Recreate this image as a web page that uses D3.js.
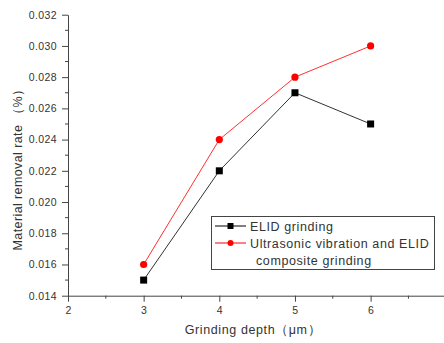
<!DOCTYPE html>
<html><head><meta charset="utf-8">
<script src="https://cdn.jsdelivr.net/npm/d3@7"></script>
<style>body{margin:0;background:#fff}svg{display:block}text{font-family:"Liberation Sans",Arial,sans-serif;fill:#333}</style>
</head><body><svg id="c" width="444" height="343"></svg>
<script>
const depths = [3, 4, 5, 6];
const elid = [0.015, 0.022, 0.027, 0.025];
const ultra = [0.016, 0.024, 0.028, 0.030];
const xTicks = [2, 3, 4, 5, 6];
const yTicks = [0.014, 0.016, 0.018, 0.020, 0.022, 0.024, 0.026, 0.028, 0.030, 0.032];
const seriesNames = ["ELID grinding", "Ultrasonic vibration and ELID", "composite grinding"];

const svg = d3.select("#c");
const x = d3.scaleLinear().domain([2, 6.97]).range([68, 444]);
const y = d3.scaleLinear().domain([0.014, 0.032]).range([295.7, 14.7]);

const xMinor = d3.range(2.5, 7, 1);
const yMinor = d3.range(0.015, 0.032, 0.002);
const ax = svg.append("g");
ax.selectAll(".xm").data(xMinor).join("line").attr("x1", d => x(d)).attr("x2", d => x(d))
  .attr("y1", y(0.014)).attr("y2", y(0.014) + 3).attr("stroke", "#444");
ax.selectAll(".ym").data(yMinor).join("line").attr("x1", x(2) - 3).attr("x2", x(2))
  .attr("y1", d => y(d)).attr("y2", d => y(d)).attr("stroke", "#444");

const xAxis = svg.append("g").attr("transform", `translate(0,${y(0.014)})`)
  .call(d3.axisBottom(x).tickValues(xTicks).tickSize(6).tickSizeOuter(0).tickFormat(d3.format("d")));
const yAxis = svg.append("g").attr("transform", `translate(${x(2)},0)`)
  .call(d3.axisLeft(y).tickValues(yTicks).tickSize(6).tickSizeOuter(0).tickFormat(d3.format(".3f")));
[xAxis, yAxis].forEach(g => {
  g.selectAll("path,line").attr("stroke", "#444");
  g.selectAll("text").attr("font-size", 10.5).attr("letter-spacing", 0.4)
    .attr("font-family", "Liberation Sans,Arial,sans-serif").attr("fill", "#333");
});
xAxis.selectAll("text").attr("dy", "0.85em");
yAxis.selectAll("text").attr("dx", "-2");

svg.append("text").attr("x", 253).attr("y", 334).attr("text-anchor", "middle").attr("font-size", 12.5)
  .attr("letter-spacing", 0.6).text("Grinding depth（μm）");
svg.append("text").attr("transform", "translate(22,166.5) rotate(-90)").attr("text-anchor", "middle")
  .attr("font-size", 12.5).attr("letter-spacing", 0.4).text("Material removal rate （%）");

const line = d3.line().x((d, i) => x(depths[i])).y(d => y(d));
svg.append("path").datum(elid).attr("d", line).attr("fill", "none").attr("stroke", "#333").attr("stroke-width", 1);
svg.append("path").datum(ultra).attr("d", line).attr("fill", "none").attr("stroke", "#ff3030").attr("stroke-width", 1);
svg.selectAll(".sq").data(elid).join("rect").attr("x", (d, i) => x(depths[i]) - 3.5).attr("y", d => y(d) - 3.5)
  .attr("width", 7).attr("height", 7).attr("fill", "#000");
svg.selectAll(".ci").data(ultra).join("circle").attr("cx", (d, i) => x(depths[i])).attr("cy", d => y(d))
  .attr("r", 3.6).attr("fill", "#ff0000");

const lg = svg.append("g");
lg.append("rect").attr("x", 211.5).attr("y", 216.5).attr("width", 223).attr("height", 53)
  .attr("fill", "#fff").attr("stroke", "#444");
lg.append("line").attr("x1", 215).attr("x2", 246).attr("y1", 226).attr("y2", 226).attr("stroke", "#000");
lg.append("rect").attr("x", 227.5).attr("y", 223).attr("width", 6).attr("height", 6).attr("fill", "#000");
lg.append("line").attr("x1", 215).attr("x2", 246).attr("y1", 243).attr("y2", 243).attr("stroke", "#ff0000");
lg.append("circle").attr("cx", 230.5).attr("cy", 243).attr("r", 3).attr("fill", "#ff0000");
const lt = [[250, 231, 0], [250, 248, 1], [256, 265, 2]];
lg.selectAll(".lt").data(lt).join("text").attr("x", d => d[0]).attr("y", d => d[1])
  .attr("font-size", 12.5).attr("letter-spacing", 0.6).text(d => seriesNames[d[2]]);
</script></body></html>
